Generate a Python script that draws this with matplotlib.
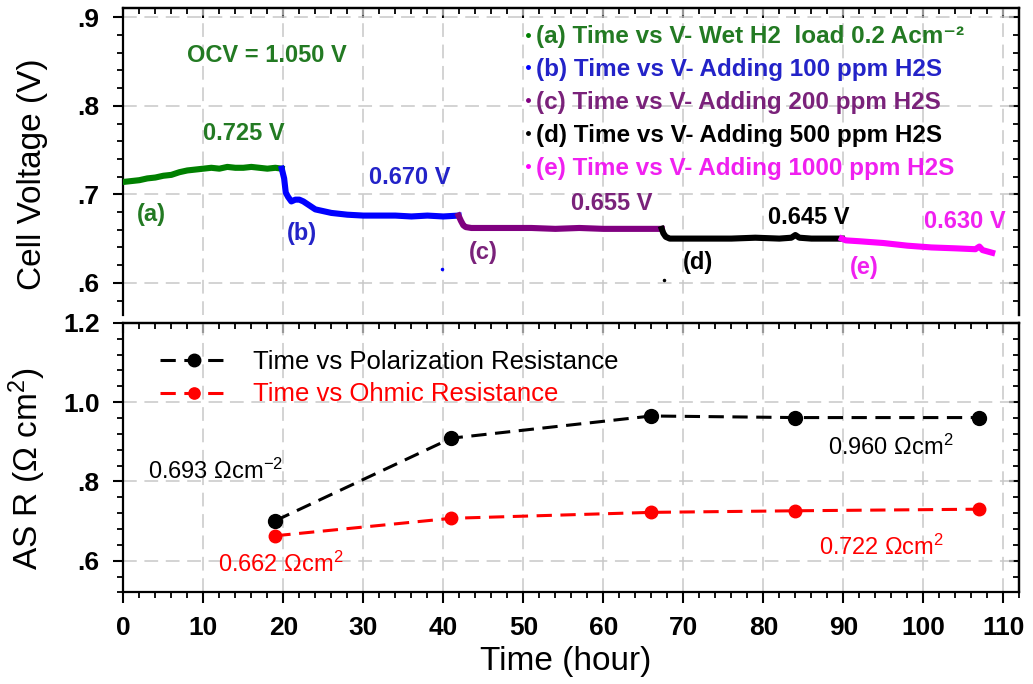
import matplotlib
matplotlib.use('Agg')
import matplotlib.pyplot as plt
from matplotlib.lines import Line2D
from matplotlib.ticker import MultipleLocator

plt.rcParams['font.family'] = ['Liberation Sans', 'DejaVu Sans']
plt.rcParams['mathtext.fontset'] = 'custom'
plt.rcParams['mathtext.rm'] = 'Liberation Sans'
plt.rcParams['mathtext.bf'] = 'Liberation Sans:bold'
plt.rcParams['mathtext.it'] = 'Liberation Sans:italic'

# ---------------- data: cell voltage vs time ----------------
t_a = [0, 1, 2, 3, 4, 5, 6, 7, 8, 9, 10, 11, 12, 13, 14, 15, 16, 17, 18, 19, 19.8]
v_a = [0.714, 0.715, 0.716, 0.718, 0.719, 0.721, 0.722, 0.725, 0.727, 0.728, 0.729,
       0.730, 0.729, 0.731, 0.730, 0.730, 0.731, 0.730, 0.729, 0.730, 0.729]

t_b = [19.8, 20.1, 20.3, 20.6, 21.0, 21.5, 22.0, 22.5, 23.0, 23.5, 24.0, 25, 26, 28,
       30, 32, 34, 36, 38, 40, 41.9]
v_b = [0.729, 0.718, 0.702, 0.697, 0.692, 0.694, 0.694, 0.692, 0.689, 0.686, 0.683,
       0.681, 0.679, 0.677, 0.676, 0.676, 0.676, 0.675, 0.676, 0.675, 0.676]

t_c = [41.9, 42.2, 42.5, 42.8, 43.5, 45, 48, 51, 54, 57, 60, 63, 66, 67.3]
v_c = [0.676, 0.670, 0.665, 0.663, 0.662, 0.662, 0.662, 0.662, 0.661, 0.662, 0.661,
       0.661, 0.661, 0.661]

t_d = [67.3, 67.5, 67.8, 68.3, 70, 73, 76, 79, 82, 83.5, 84.0, 84.5, 86, 88, 89.8]
v_d = [0.661, 0.656, 0.652, 0.650, 0.650, 0.650, 0.650, 0.651, 0.650, 0.651, 0.654,
       0.651, 0.650, 0.650, 0.650]

t_e = [89.8, 90.3, 92, 95, 98, 101, 104, 106.5, 107.0, 107.4, 108.6]
v_e = [0.650, 0.648, 0.647, 0.645, 0.642, 0.640, 0.639, 0.638, 0.641, 0.637, 0.634]

stray_t = [39.8, 67.6]
stray_v = [0.616, 0.603]
stray_c = ['#0000ff', '#000000']

seg_colors = ['#008000', '#0000ff', '#800080', '#000000', '#ff00ff']
text_colors = ['#237a23', '#2323c8', '#7a227a', '#000000', '#f020f0']
legend_labels = [
    '(a) Time vs V- Wet H2  load 0.2 Acm⁻²',
    '(b) Time vs V- Adding 100 ppm H2S',
    '(c) Time vs V- Adding 200 ppm H2S',
    '(d) Time vs V- Adding 500 ppm H2S',
    '(e) Time vs V- Adding 1000 ppm H2S',
]

# ---------------- data: area specific resistance ----------------
res_hours = [19, 41, 66, 84, 107]
pol_res = [0.701, 0.909, 0.965, 0.961, 0.961]
ohm_res = [0.663, 0.707, 0.722, 0.726, 0.730]

# ---------------- figure ----------------
fig = plt.figure(figsize=(10.33, 6.84), dpi=100)
ax1 = fig.add_axes([0.1194, 0.5399, 0.8674, 0.4477])
ax2 = fig.add_axes([0.1194, 0.1338, 0.8674, 0.3943])

grid_kw = dict(color='#c8c8c8', linestyle=(0, (9, 5)), linewidth=1.1)
XMAX = 112

# ---- top panel ----
segs = [(t_a, v_a), (t_b, v_b), (t_c, v_c), (t_d, v_d), (t_e, v_e)]
for (t, v), c in zip(segs, seg_colors):
    ax1.plot(t, v, color=c, lw=4.4, solid_joinstyle='round', zorder=3)
for t, v, c in zip(stray_t, stray_v, stray_c):
    ax1.plot([t], [v], marker='.', ms=3, color=c, ls='none', zorder=3)

ax1.set_xlim(0, XMAX)
ax1.set_ylim(0.564, 0.910)
ax1.set_yticks([0.6, 0.7, 0.8, 0.9], ['.6', '.7', '.8', '.9'])
ax1.yaxis.set_minor_locator(MultipleLocator(0.02))
ax1.xaxis.set_major_locator(MultipleLocator(10))
ax1.xaxis.set_minor_locator(MultipleLocator(2))
ax1.grid(True, which='major', **grid_kw)
ax1.set_axisbelow(True)
ax1.spines['bottom'].set_visible(False)
ax1.tick_params(axis='x', which='both', bottom=False, labelbottom=False)
ax1.set_ylabel('Cell Voltage (V)', fontsize=24)
ax1.yaxis.set_label_coords(-0.084, 0.46)

# annotations top
ann_kw = dict(fontsize=17, fontweight='bold', ha='center', va='center')
ax1.text(18, 0.857, 'OCV = 1.050 V', color=text_colors[0], **ann_kw)
ax1.text(15.1, 0.769, '0.725 V', color=text_colors[0], **ann_kw)
ax1.text(3.5, 0.677, '(a)', color=text_colors[0], **ann_kw)
ax1.text(22.3, 0.656, '(b)', color=text_colors[1], **ann_kw)
ax1.text(35.8, 0.719, '0.670 V', color=text_colors[1], **ann_kw)
ax1.text(45.0, 0.634, '(c)', color=text_colors[2], **ann_kw)
ax1.text(61.1, 0.690, '0.655 V', color=text_colors[2], **ann_kw)
ax1.text(71.8, 0.623, '(d)', color=text_colors[3], **ann_kw)
ax1.text(85.7, 0.674, '0.645 V', color=text_colors[3], **ann_kw)
ax1.text(92.6, 0.617, '(e)', color=text_colors[4], **ann_kw)
ax1.text(105.2, 0.669, '0.630 V', color=text_colors[4], **ann_kw)

handles = [Line2D([], [], marker='.', ms=5, color=c, ls='none') for c in seg_colors]
leg1 = ax1.legend(handles, legend_labels, loc='upper left', bbox_to_anchor=(0.448, 0.946),
                  frameon=False, prop={'size': 17.5, 'weight': 'bold'}, labelcolor=text_colors,
                  handlelength=0.3, handletextpad=0.15, labelspacing=0.41, borderpad=0,
                  borderaxespad=0)

# ---- bottom panel ----
ax2.plot(res_hours, pol_res, color='black', ls=(0, (5, 2.8)), lw=2.2, marker='o', ms=10,
         label='Time vs Polarization Resistance', zorder=3)
ax2.plot(res_hours, ohm_res, color='#ff0000', ls=(0, (5, 2.8)), lw=2.2, marker='o', ms=9,
         label='Time vs Ohmic Resistance', zorder=3)
ax2.set_xlim(0, XMAX)
ax2.set_ylim(0.52, 1.2)
ax2.set_yticks([0.6, 0.8, 1.0, 1.2], ['.6', '.8', '1.0', '1.2'])
ax2.yaxis.set_minor_locator(MultipleLocator(0.04))
ax2.xaxis.set_major_locator(MultipleLocator(10))
ax2.xaxis.set_minor_locator(MultipleLocator(2))
ax2.grid(True, which='major', **grid_kw)
ax2.set_axisbelow(True)
ax2.set_xlabel('Time (hour)', fontsize=24)
ax2.xaxis.set_label_coords(0.494, -0.2)
ax2.set_ylabel('AS R ($\\Omega$ cm$^2$)', fontsize=24)
ax2.yaxis.set_label_coords(-0.084, 0.46)

ax2.text(3.1, 0.826, '0.693 Ωcm$^{-2}$', fontsize=17, color='black', ha='left', va='center')
ax2.text(11.8, 0.592, '0.662 Ωcm$^{2}$', fontsize=17, color='#ff0000', ha='left', va='center')
ax2.text(88.1, 0.886, '0.960 Ωcm$^{2}$', fontsize=17, color='black', ha='left', va='center')
ax2.text(87.0, 0.635, '0.722 Ωcm$^{2}$', fontsize=17, color='#ff0000', ha='left', va='center')

leg2 = ax2.legend(loc='upper left', bbox_to_anchor=(0.041, 0.899), frameon=False,
                  prop={'size': 18.5}, labelcolor=['black', '#ff0000'],
                  handlelength=2.65, handletextpad=0.95, labelspacing=0.33, borderpad=0,
                  borderaxespad=0, numpoints=1, markerscale=0.9)

# ---- ticks & spines ----
for ax in (ax1, ax2):
    for s in ax.spines.values():
        s.set_linewidth(1.6)
    ax.tick_params(axis='y', which='both', left=True, right=False, direction='out')
    ax.tick_params(axis='y', which='major', length=7, width=1.5, labelsize=19, pad=10)
    ax.tick_params(axis='y', which='minor', length=4, width=1.3)
    for lab in ax.get_yticklabels():
        lab.set_fontweight('bold')
    secy = ax.secondary_yaxis('right')
    secy.set_yticks(ax.get_yticks())
    secy.yaxis.set_minor_locator(ax.yaxis.get_minor_locator())
    secy.tick_params(which='both', direction='in', labelright=False)
    secy.tick_params(which='major', length=7, width=1.5)
    secy.tick_params(which='minor', length=4, width=1.3)
    secy.spines['right'].set_linewidth(1.6)
    secx = ax.secondary_xaxis('top')
    secx.xaxis.set_major_locator(MultipleLocator(10))
    secx.xaxis.set_minor_locator(MultipleLocator(2))
    secx.tick_params(which='both', direction='in', labeltop=False)
    secx.tick_params(which='major', length=7, width=1.5)
    secx.tick_params(which='minor', length=4, width=1.3)
    secx.spines['top'].set_linewidth(1.6)
    ax.tick_params(axis='x', which='both', top=False)

ax2.tick_params(axis='x', which='major', direction='out', length=8, width=1.5, labelsize=19, pad=9)
ax2.tick_params(axis='x', which='minor', direction='out', length=4, width=1.3)
for lab in ax2.get_xticklabels():
    lab.set_fontweight('bold')

fig.savefig('out.png', dpi=100)
